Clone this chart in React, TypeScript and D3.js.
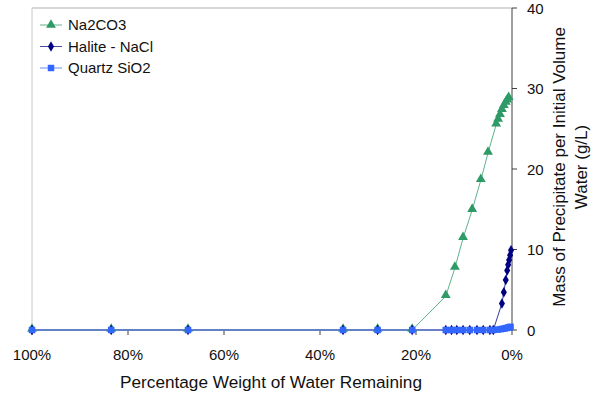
import React from "react";
import * as d3 from "d3";

const naX = [100, 83.5, 67.5, 35.2, 28, 20.8, 13.8, 11.9, 10.2, 8.3, 6.5, 5.0, 3.3, 2.9, 2.5, 2.1, 1.7, 1.3, 1.0, 0.7];
const naY = [0, 0, 0, 0, 0, 0, 4.2, 7.7, 11.4, 14.9, 18.6, 22.0, 25.5, 26.1, 26.7, 27.3, 27.8, 28.2, 28.5, 28.8];

const haX = [100, 83.5, 67.5, 35.2, 28, 20.8, 13.8, 12.6, 11.5, 10.2, 8.8, 7.3, 6.0, 4.6, 3.9, 2.1, 1.7, 1.3, 1.0, 0.8, 0.6, 0.4, 0.2];
const haY = [0, 0, 0, 0, 0, 0, 0, 0, 0, 0, 0, 0, 0, 0, 0, 3.3, 4.7, 6.2, 7.4, 8.1, 8.7, 9.3, 9.9];

const qzX = [100, 83.5, 67.5, 35.2, 28, 20.8, 13.8, 12.6, 11.5, 10.2, 8.8, 7.3, 6.0, 4.6, 3.9, 3.0, 2.4, 1.9, 1.5, 1.1, 0.8, 0.5, 0.3];
const qzY = [0, 0, 0, 0, 0, 0, 0, 0, 0, 0, 0, 0, 0, 0, 0, 0.05, 0.1, 0.15, 0.2, 0.25, 0.3, 0.35, 0.4];

const xTicks = [100, 80, 60, 40, 20, 0];
const yTicks = [0, 10, 20, 30, 40];

const seriesNames = ["Na2CO3", "Halite - NaCl", "Quartz SiO2"];
const colors = { na: "#2e9a66", ha: "#000080", qz: "#3366ff" };

export default function App() {
  const W = 600, H = 397;
  const left = 32, right = 512, top = 8, bottom = 330;
  const x = d3.scaleLinear().domain([100, 0]).range([left, right]);
  const y = d3.scaleLinear().domain([0, 40]).range([bottom, top]);
  const font = "Liberation Sans, Arial, sans-serif";

  const line = (xs: number[], ys: number[]) =>
    d3.line<number>().x((_, i) => x(xs[i])).y((v) => y(v))(ys) || "";

  const tri = d3.symbol().type(d3.symbolTriangle).size(42)() || "";
  const dia = d3.symbol().type(d3.symbolDiamond).size(32)() || "";
  const sq = d3.symbol().type(d3.symbolSquare).size(42)() || "";

  const legendItems = [
    { name: seriesNames[0], color: colors.na, path: tri, lineColor: "#5fb38a" },
    { name: seriesNames[1], color: colors.ha, path: dia, lineColor: "#4a4aa0" },
    { name: seriesNames[2], color: colors.qz, path: sq, lineColor: "#6b8ff5" },
  ];

  return (
    <svg width={W} height={H} style={{ position: "absolute", left: 0, top: 0, background: "#fff" }}>
      <line x1={left} x2={right} y1={top} y2={top} stroke="#b0b0b0" strokeWidth={1} />
      <line x1={left} x2={left} y1={top} y2={bottom} stroke="#c8c8c8" strokeWidth={1} />
      <line x1={left} x2={right} y1={bottom} y2={bottom} stroke="#404040" strokeWidth={1} />
      {xTicks.map((t) => (
        <g key={"xt" + t}>
          <line x1={x(t)} x2={x(t)} y1={bottom} y2={bottom + 5} stroke="#404040" />
          <text x={x(t)} y={bottom + 30} textAnchor="middle" fontFamily={font} fontSize={15} fill="#111">
            {t + "%"}
          </text>
        </g>
      ))}
      <line x1={right} x2={right} y1={top} y2={bottom} stroke="#404040" strokeWidth={1} />
      {yTicks.map((t) => (
        <g key={"yt" + t}>
          <line x1={right} x2={right + 5} y1={y(t)} y2={y(t)} stroke="#404040" />
          <text x={right + 15} y={y(t) + 5.5} textAnchor="start" fontFamily={font} fontSize={15} fill="#111">
            {t}
          </text>
        </g>
      ))}
      <path d={line(naX, naY)} fill="none" stroke="#5fb38a" strokeWidth={1} />
      <path d={line(haX, haY)} fill="none" stroke="#3a3a99" strokeWidth={1} />
      <path d={line(qzX, qzY)} fill="none" stroke="#6b8ff5" strokeWidth={1.2} />
      {naX.map((v, i) => (
        <path key={"na" + i} d={tri} transform={`translate(${x(v)},${y(naY[i]) - 1})`} fill={colors.na} />
      ))}
      {haX.map((v, i) => (
        <path key={"ha" + i} d={dia} transform={`translate(${x(v)},${y(haY[i])})`} fill={colors.ha} />
      ))}
      {qzX.map((v, i) => (
        <path key={"qz" + i} d={sq} transform={`translate(${x(v)},${y(qzY[i])})`} fill={colors.qz} />
      ))}
      {legendItems.map((it, i) => {
        const ly = 25 + i * 21.5;
        return (
          <g key={"lg" + i}>
            <line x1={40} x2={62} y1={ly} y2={ly} stroke={it.lineColor} strokeWidth={1} />
            <path d={it.path} transform={`translate(51,${ly})`} fill={it.color} />
            <text x={68} y={ly + 5} fontFamily={font} fontSize={15} fill="#111">
              {it.name}
            </text>
          </g>
        );
      })}
      <text x={(left + right) / 2 - 1} y={388} textAnchor="middle" fontFamily={font} fontSize={17.2} fill="#111">
        Percentage Weight of Water Remaining
      </text>
      <text transform={`translate(565,167) rotate(-90)`} textAnchor="middle" fontFamily={font} fontSize={17} fill="#111">
        <tspan x={0} dy={0}>Mass of Precipitate per Initial Volume</tspan>
        <tspan x={0} dy={22}>Water (g/L)</tspan>
      </text>
    </svg>
  );
}
